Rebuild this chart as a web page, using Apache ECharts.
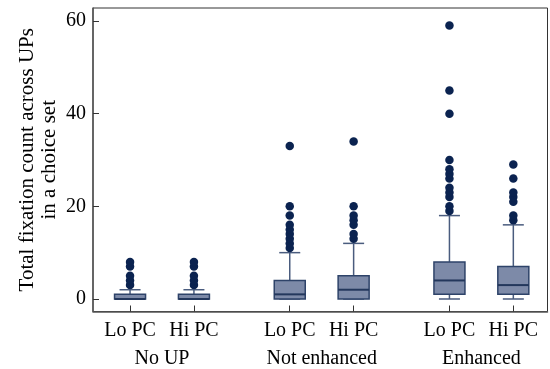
<!DOCTYPE html>
<html>
<head>
<meta charset="utf-8">
<script src="https://cdn.jsdelivr.net/npm/echarts@6/dist/echarts.min.js"></script>
<style>
  html, body { margin: 0; padding: 0; background: #fff; }
  #chart { width: 550px; height: 369px; }
</style>
</head>
<body>
<div id="chart"></div>
<script>
// box positions on the x scale (two per group, wider gap between groups)
const positions = [0, 2, 5, 7, 10, 12];
const pcLabels = ['Lo PC', 'Hi PC', 'Lo PC', 'Hi PC', 'Lo PC', 'Hi PC'];
const groupPositions = [1, 6, 11];
const groupLabels = ['No UP', 'Not enhanced', 'Enhanced'];
const yTicks = [0, 20, 40, 60];

// box statistics
const whiskerLow = [0, 0, 0, 0, 0, 0];
const q1 = [0, 0, 0, 0, 1, 1];
const median = [0, 0, 1, 2, 4, 3];
const q3 = [1, 1, 4, 5, 8, 7];
const whiskerHigh = [2, 2, 10, 12, 18, 16];

// outliers per box
const outliers = [
  [3, 4, 5, 7, 8],
  [3, 4, 5, 7, 8],
  [11, 12, 13, 14, 15, 16, 18, 20, 33],
  [13, 14, 16, 17, 18, 20, 34],
  [19, 20, 22, 23, 24, 26, 27, 28, 30, 40, 45, 59],
  [17, 18, 21, 22, 23, 26, 29]
];

const boxData = positions.map((p, i) => [p, whiskerLow[i], q1[i], median[i], q3[i], whiskerHigh[i]]);
const outlierData = [];
outliers.forEach((list, i) => {
  list.forEach(v => outlierData.push([positions[i], v]));
});

const chart = echarts.init(document.getElementById('chart'));

const font = 'Liberation Serif, Times New Roman, serif';

chart.setOption({
  animation: false,
  grid: {
    left: 93, top: 8, right: 2.5, bottom: 57.3,
    show: true, borderColor: '#333', borderWidth: 1
  },
  xAxis: [{
    type: 'value',
    min: -1.16,
    max: 13.07,
    splitLine: { show: false },
    axisLine: { show: true, onZero: false, lineStyle: { color: '#555', width: 1.5 } },
    axisTick: { show: true, inside: true, length: 6, customValues: positions, lineStyle: { color: '#333' } },
    axisLabel: {
      customValues: positions,
      margin: 9,
      color: '#000',
      fontFamily: font,
      fontSize: 20,
      formatter: v => pcLabels[positions.indexOf(v)]
    }
  }, {
    type: 'value',
    position: 'bottom',
    offset: 28.5,
    min: -1.16,
    max: 13.07,
    splitLine: { show: false },
    axisLine: { show: false, onZero: false },
    axisTick: { show: false },
    axisLabel: {
      customValues: groupPositions,
      margin: 9,
      color: '#000',
      fontFamily: font,
      fontSize: 20,
      formatter: v => groupLabels[groupPositions.indexOf(v)]
    }
  }],
  yAxis: {
    type: 'value',
    min: -2.7,
    max: 62.8,
    name: 'Total fixation count across UPs\nin a choice set',
    nameLocation: 'middle',
    nameGap: 33,
    nameMoveOverlap: false,
    nameTextStyle: { color: '#000', fontFamily: font, fontSize: 21, lineHeight: 22 },
    splitLine: { show: false },
    axisLine: { show: true, onZero: false, lineStyle: { color: '#555', width: 1.5 } },
    axisTick: { show: true, inside: true, length: 6, customValues: yTicks, lineStyle: { color: '#333' } },
    axisLabel: {
      customValues: yTicks,
      margin: 7,
      color: '#000',
      fontFamily: font,
      fontSize: 20
    }
  },
  series: [{
    type: 'custom',
    data: boxData,
    encode: { x: 0, y: [1, 2, 3, 4, 5] },
    renderItem: function (params, api) {
      const x = api.value(0);
      const lo = api.coord([x, api.value(1)]);
      const b1 = api.coord([x, api.value(2)]);
      const md = api.coord([x, api.value(3)]);
      const b3 = api.coord([x, api.value(4)]);
      const hi = api.coord([x, api.value(5)]);
      const cx = lo[0];
      const bw = 31, cw = 21;
      const whisker = { stroke: '#4A5C7E', lineWidth: 1.5 };
      return {
        type: 'group',
        children: [
          { type: 'line', shape: { x1: cx, y1: hi[1], x2: cx, y2: b3[1] }, style: whisker },
          { type: 'line', shape: { x1: cx, y1: b1[1], x2: cx, y2: lo[1] }, style: whisker },
          { type: 'line', shape: { x1: cx - cw / 2, y1: hi[1], x2: cx + cw / 2, y2: hi[1] }, style: whisker },
          { type: 'line', shape: { x1: cx - cw / 2, y1: lo[1], x2: cx + cw / 2, y2: lo[1] }, style: whisker },
          {
            type: 'rect',
            shape: { x: cx - bw / 2, y: b3[1], width: bw, height: b1[1] - b3[1] },
            style: { fill: '#7D8AA8', stroke: '#2E4369', lineWidth: 1.5 }
          },
          { type: 'line', shape: { x1: cx - bw / 2, y1: md[1], x2: cx + bw / 2, y2: md[1] }, style: { stroke: '#23375C', lineWidth: 2 } }
        ]
      };
    }
  }, {
    type: 'scatter',
    data: outlierData,
    symbol: 'circle',
    symbolSize: 8.5,
    itemStyle: { color: '#0B2350', opacity: 1 }
  }]
});
</script>
</body>
</html>
